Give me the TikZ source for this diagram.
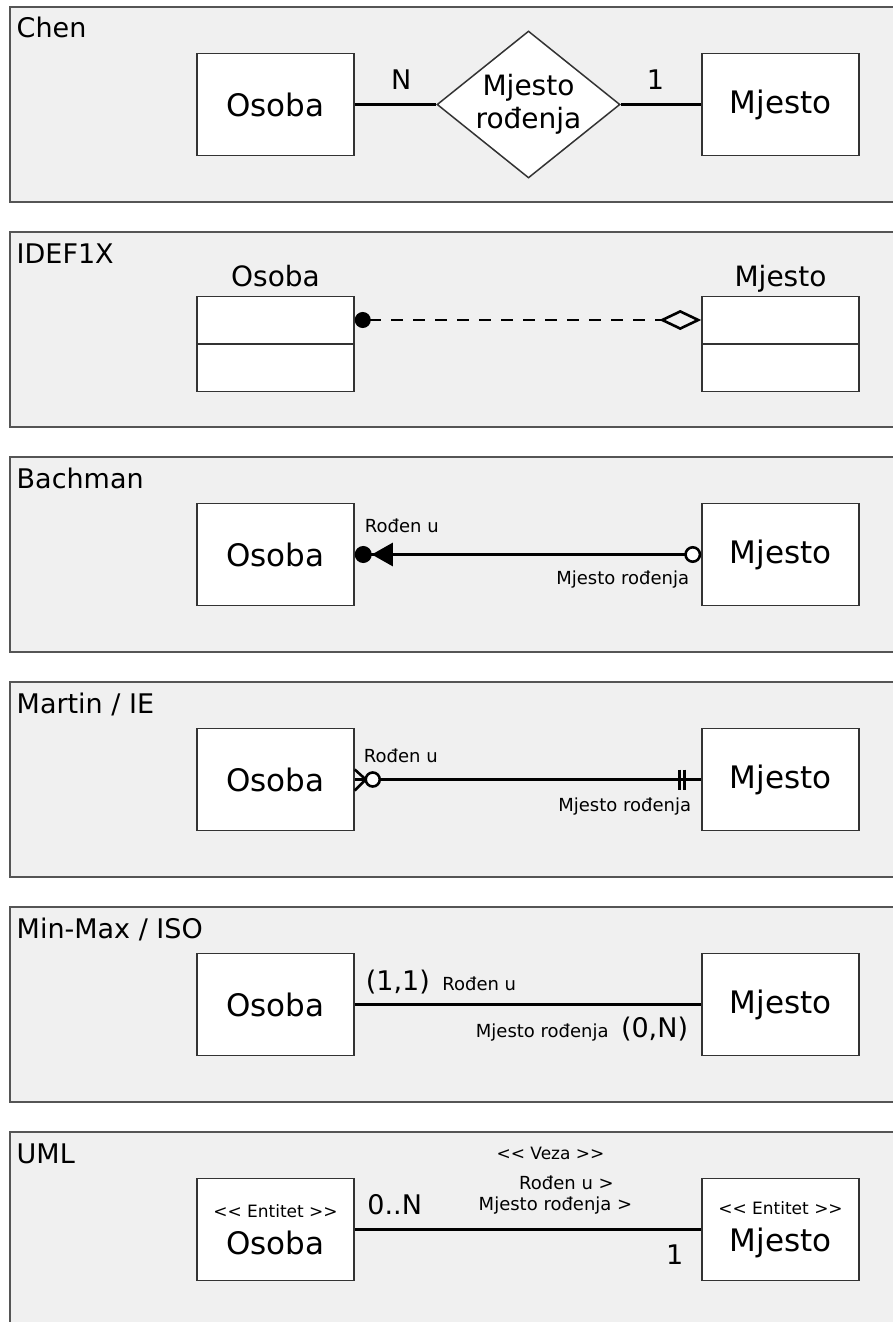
\documentclass[tikz,border=0pt]{standalone}
\usepackage{fontspec}
\setmainfont{DejaVu Sans}
\usetikzlibrary{arrows.meta,shapes.geometric,positioning}

\definecolor{panelgray}{RGB}{240,240,240}
\definecolor{edgegray}{RGB}{85,85,85}
\newcommand{\stereo}[1]{<\kern0pt< #1 >\kern0pt>}

\tikzset{
  panel/.style={draw=edgegray, line width=1.8pt, fill=panelgray},
  heading/.style={anchor=base west, inner sep=0pt, font=\fontsize{27}{32}\selectfont},
  entity/.style={draw=black!80, line width=1.5pt, fill=white, minimum width=157pt,
    minimum height=102pt, inner sep=0pt, font=\fontsize{31}{35}\selectfont},
  compartment/.style={draw=black!80, line width=1.5pt, fill=white, minimum width=157pt,
    minimum height=47.5pt, inner sep=0pt},
  relationship/.style={diamond, draw=black!80, line width=1.5pt, fill=white, minimum width=183pt,
    minimum height=147pt, aspect=1.245, inner sep=0pt, align=center, font=\fontsize{28}{33}\selectfont},
  caption/.style={anchor=base, inner sep=0pt, font=\fontsize{28}{32}\selectfont},
  link/.style={line width=2.6pt},
  note/.style={inner sep=0pt, font=\fontsize{18}{22}\selectfont},
  card/.style={inner sep=0pt, font=\fontsize{27}{30}\selectfont},
  stereotype/.style={inner sep=0pt, font=\fontsize{17}{20}\selectfont},
}

\begin{document}
\begin{tikzpicture}[x=1pt, y=-1pt, node distance=505pt, on grid]
    \useasboundingbox (0,0) rectangle (893,1322);

    % panels with their titles
    \foreach \t/\title [count=\i] in {7/Chen, 232/IDEF1X, 457/Bachman, 682/{Martin / IE}, 907/{Min-Max / ISO}, 1132/UML}
    {
        \draw[panel] (10,\t) rectangle (900,\t+195);
        \node[heading] (title_\i) at (16.5,\t+31) {\title};
    }

    % Chen
    \node[entity] (osoba_1) at (275.5,104.5) {Osoba};
    \node[relationship] (veza_1) [right=253pt of osoba_1] {Mjesto\\rođenja};
    \node[entity] (mjesto_1) [right=of osoba_1] {Mjesto};
    \draw[link] (osoba_1) -- node[card, anchor=base, yshift=15pt, pos=.57] {N} (veza_1);
    \draw[link] (veza_1) -- node[card, anchor=base, yshift=15pt, pos=.43] {1} (mjesto_1);

    % IDEF1X
    \node[compartment] (osoba_2)   at (275.5,320) {};
    \node[compartment] (osoba_2b)  [below=47.5pt of osoba_2] {};
    \node[compartment] (mjesto_2)  [right=of osoba_2] {};
    \node[compartment] (mjesto_2b) [below=47.5pt of mjesto_2] {};
    \node[caption] (osoba_2_name)  at ([yshift=9pt]osoba_2.north) {Osoba};
    \node[caption] (mjesto_2_name) at ([yshift=9pt]mjesto_2.north) {Mjesto};
    \draw[link, dash pattern=on 12pt off 10pt,
        {Circle[length=16pt]}-{Diamond[open, length=42pt, width=20pt]}] (osoba_2) -- (mjesto_2);

    % Bachman
    \node[entity] (osoba_3)  at (275.5,554.5) {Osoba};
    \node[entity] (mjesto_3) [right=of osoba_3] {Mjesto};
    \draw[link, {Circle[length=17pt] Triangle[length=21pt, width=23pt]}-{Circle[open, length=17pt, fill=white]}]
        (osoba_3) -- (mjesto_3);
    \node[note, anchor=base west] (rodjen_3) at ([xshift=10pt, yshift=22pt]osoba_3.east) {Rođen u};
    \node[note, anchor=base east] (rodjenja_3) at ([xshift=-12pt, yshift=-30pt]mjesto_3.west) {Mjesto rođenja};

    % Martin / IE
    \node[entity] (osoba_4)  at (275.5,779.5) {Osoba};
    \node[entity] (mjesto_4) [right=of osoba_4] {Mjesto};
    \draw[link] (osoba_4) -- (mjesto_4);
    \draw[link] ([yshift=10pt]osoba_4.east) -- ([xshift=11pt]osoba_4.east) -- ([yshift=-11pt]osoba_4.east);
    \draw[link, fill=white] ([xshift=18pt]osoba_4.east) circle (7pt);
    \draw[link] ([xshift=-22pt, yshift=10pt]mjesto_4.west) -- ++(0,20);
    \draw[link] ([xshift=-17pt, yshift=10pt]mjesto_4.west) -- ++(0,20);
    \node[note, anchor=base west] (rodjen_4) at ([xshift=9pt, yshift=17pt]osoba_4.east) {Rođen u};
    \node[note, anchor=base east] (rodjenja_4) at ([xshift=-10pt, yshift=-32pt]mjesto_4.west) {Mjesto rođenja};

    % Min-Max / ISO
    \node[entity] (osoba_5)  at (275.5,1004.5) {Osoba};
    \node[entity] (mjesto_5) [right=of osoba_5] {Mjesto};
    \draw[link] (osoba_5) -- (mjesto_5);
    \node[card, anchor=base west] (min_5) at ([xshift=11pt, yshift=14pt]osoba_5.east) {(1,1)};
    \node[note, anchor=base west] (rodjen_5) at ([xshift=12pt]min_5.base east) {Rođen u};
    \node[card, anchor=base east] (max_5) at ([xshift=-13pt, yshift=-33pt]mjesto_5.west) {(0,N)};
    \node[note, anchor=base east] (rodjenja_5) at ([xshift=-12pt]max_5.base west) {Mjesto rođenja};

    % UML
    \node[entity, align=center] (osoba_6) at (275.5,1229.5)
        {{\fontsize{17}{20}\selectfont\stereo{Entitet}}\\[2pt]Osoba};
    \node[entity, align=center] (mjesto_6) [right=of osoba_6]
        {{\fontsize{17}{20}\selectfont\stereo{Entitet}}\\[2pt]Mjesto};
    \draw[link] (osoba_6) -- (mjesto_6)
        node[stereotype, pos=.5, xshift=22.5pt, yshift=76.5pt] (veza_6) {\stereo{Veza}}
        node[note, pos=.5, xshift=38.5pt, yshift=46.5pt] (rodjen_6) {Rođen u >}
        node[note, pos=.5, xshift=27.5pt, yshift=23.5pt] (rodjenja_6) {Mjesto rođenja >};
    \node[card] (min_6) at ([xshift=40pt, yshift=24.5pt]osoba_6.east) {0..N};
    \node[card] (max_6) at ([xshift=-26.5pt, yshift=-25.5pt]mjesto_6.west) {1};
\end{tikzpicture}
\end{document}
